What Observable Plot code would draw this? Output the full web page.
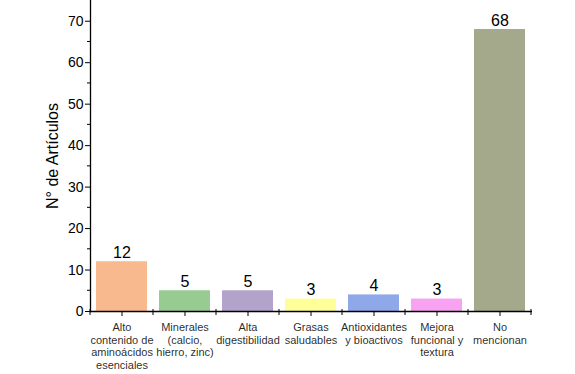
<!DOCTYPE html>
<html>
<head>
<meta charset="utf-8">
<script src="https://cdn.jsdelivr.net/npm/d3@7"></script>
<script src="https://cdn.jsdelivr.net/npm/@observablehq/plot@0.6"></script>
<style>
  html, body { margin: 0; padding: 0; background: #fff; }
  #chart svg { display: block; }
</style>
</head>
<body>
<div id="chart"></div>
<script>
const categories = [
  "Alto\ncontenido de\naminoácidos\nesenciales",
  "Minerales\n(calcio,\nhierro, zinc)",
  "Alta\ndigestibilidad",
  "Grasas\nsaludables",
  "Antioxidantes\ny bioactivos",
  "Mejora\nfuncional y\ntextura",
  "No\nmencionan"
];
const values = [12, 5, 5, 3, 4, 3, 68];
const colors = ["#F9B98F", "#98CB91", "#B2A3CA", "#FFFF99", "#8FA8EA", "#F9A2F1", "#A4A98B"];
const yMajorTicks = [0, 10, 20, 30, 40, 50, 60, 70];
const yMinorTicks = [5, 15, 25, 35, 45, 55, 65];
const yLabel = "N° de Artículos";

const data = categories.map((c, i) => ({cat: c, value: values[i], color: colors[i]}));

const boundaryTicks = (index, scales, values, dims) => {
  const x = scales.x;
  const step = x.step();
  const y0 = scales.y(0);
  const g = d3.create("svg:g");
  const xs = categories.map(c => x(c) - (step - x.bandwidth()) / 2);
  xs.push(xs[xs.length - 1] + step);
  for (const px of xs) {
    g.append("line").attr("x1", px).attr("x2", px)
      .attr("y1", y0 - 2).attr("y2", y0 + 4)
      .attr("stroke", "#000").attr("stroke-width", 1);
  }
  return g.node();
};

const minorYTicks = (index, scales, values, dims) => {
  const g = d3.create("svg:g");
  for (const v of yMinorTicks) {
    const py = scales.y(v);
    g.append("line").attr("x1", dims.marginLeft - 3).attr("x2", dims.marginLeft)
      .attr("y1", py).attr("y2", py).attr("stroke", "#000");
  }
  return g.node();
};

const chart = Plot.plot({
  width: 575,
  height: 374,
  marginLeft: 90,
  marginRight: 43,
  marginTop: 0,
  marginBottom: 63,
  style: {fontFamily: "Liberation Sans, Arial, sans-serif", background: "#fff", color: "#000"},
  x: {domain: categories, paddingInner: 0.19, paddingOuter: 0.095, label: null},
  y: {domain: [0, 75], label: null},
  marks: [
    Plot.barY(data, {x: "cat", y: "value", fill: "color"}),
    Plot.text(data, {x: "cat", y: "value", text: d => String(d.value), lineAnchor: "bottom", dy: -4, fontSize: 16, fill: "#000"}),
    Plot.axisY({ticks: yMajorTicks, tickSize: 5, tickPadding: 2, fontSize: 14, stroke: "#000", fill: "#000"}),
    Plot.ruleY([0], {stroke: "none", render: minorYTicks}),
    Plot.axisX({tickSize: 5, tickPadding: 6, fontSize: 11, lineHeight: 1.13, stroke: "#000", fill: "#000", fillOpacity: 0.85}),
    Plot.ruleY([0], {stroke: "#000", strokeWidth: 1.3}),
    Plot.frame({anchor: "left", stroke: "#000", strokeWidth: 1.3}),
    Plot.ruleY([0], {stroke: "none", render: boundaryTicks}),
    Plot.text([yLabel], {frameAnchor: "left", textAnchor: "middle", text: d => d, rotate: -90, dx: -38, fontSize: 16, fill: "#000"})
  ]
});
document.getElementById("chart").appendChild(chart);
</script>
</body>
</html>
